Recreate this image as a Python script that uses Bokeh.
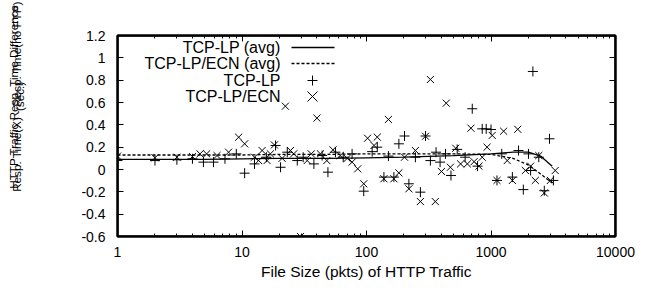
import math
from bokeh.plotting import figure
from bokeh.models import (Range1d, FixedTicker, CustomJSTickFormatter, LinearAxis, LogAxis,
                          Label, Arrow, BoxAnnotation)
from bokeh.embed import file_html
from bokeh.resources import INLINE

# ---------------- data ----------------
lp_x = [1, 2, 3, 4, 4.9, 5.9, 7.3, 9, 10.5, 12.6, 15.7, 18.6, 20.4, 23.1, 27.8, 31, 37.8, 44, 49,
        56.3, 65, 76.6, 95, 111, 122, 138, 150, 166, 182, 202, 219, 247, 271, 298, 326, 362, 390,
        431, 477, 535, 620, 707, 780, 850, 915, 1000, 1117, 1220, 1485, 1664, 1818, 2000, 2080,
        2170, 2420, 2680, 2950, 3170]
lp_y = [0.08, 0.08, 0.087, 0.096, 0.066, 0.066, 0.096, 0.14, -0.033, 0.05, 0.11, 0.215, 0.02,
        0.155, 0.08, 0.11, 0.05, 0.125, -0.024, 0.155, 0.11, 0.14, -0.194, 0.16, 0.2, -0.068,
        0.12, -0.068, 0.23, 0.30, -0.128, 0.11, -0.203, 0.30, 0.08, 0.155, 0.066, 0.14, -0.054,
        0.18, 0.11, 0.544, 0.03, 0.364, 0.364, 0.358, -0.098, 0.14, -0.068, 0.17, -0.18, 0.14,
        -0.009, 0.878, 0.11, -0.19, 0.275, -0.098]

ecn_x = [1, 2, 3, 4, 4.6, 5.2, 6.3, 7.8, 9.4, 10.5, 12.6, 13.6, 14.5, 15.9, 16.9, 18.2, 21, 22.3,
         24.5, 26, 29.5, 33.4, 36, 40, 42.7, 48, 53.8, 61.5, 70, 76.6, 85, 95, 102, 115, 122, 138,
         150, 166, 182, 202, 219, 247, 271, 298, 326, 357, 400, 437, 472, 521, 570, 646, 690, 731,
         800, 850, 930, 1023, 1117, 1263, 1350, 1485, 1640, 1890, 2080, 2270, 2420, 2680, 3000,
         3280]
ecn_y = [0.12, 0.105, 0.11, 0.116, 0.14, 0.14, 0.125, 0.155, 0.289, 0.23, 0.11, 0.08, 0.17, 0.08,
         0.14, 0.22, 0.10, 0.567, 0.17, 0.14, -0.6, 0.08, 0.14, 0.46, 0.14, 0.08, 0.176, 0.125,
         0.10, 0.066, 0.006, -0.128, 0.28, 0.215, 0.29, -0.083, 0.448, -0.083, -0.03, 0.11,
         -0.173, 0.17, -0.287, 0.298, 0.806, -0.287, -0.018, 0.594, 0.02, 0.19, 0.05, 0.05, 0.37,
         0.07, 0.03, 0.11, 0.2, 0.305, -0.098, 0.343, 0.08, -0.098, 0.36, -0.009, 0.03, -0.098,
         0.125, -0.21, -0.098, -0.009]

avg_x = [1, 2, 5, 10, 20, 50, 100, 200, 500, 1000, 1500, 2000, 2500, 3100]
lp_avg = [0.09, 0.09, 0.09, 0.095, 0.10, 0.10, 0.105, 0.11, 0.125, 0.14, 0.155, 0.155, 0.12, 0.03]
ecn_avg = [0.13, 0.13, 0.13, 0.13, 0.135, 0.135, 0.14, 0.14, 0.14, 0.135, 0.10, 0.04, -0.04, -0.12]

x_ticks = [1, 10, 100, 1000, 10000]
y_ticks = [-0.6, -0.4, -0.2, 0, 0.2, 0.4, 0.6, 0.8, 1.0, 1.2]

legend_labels = ["TCP-LP (avg)", "TCP-LP/ECN (avg)", "TCP-LP", "TCP-LP/ECN"]
x_title = "File Size (pkts) of HTTP Traffic"
y_title = ["HTTP Traffic Resp. Time Difference", "Resp. Time(X) - Resp. Time(no FTP)", "(sec.)"]

FONT = "Liberation Sans"
FW, FH = 498, 201  # frame size in px

p = figure(width=659, height=291, x_axis_type="log",
           x_range=Range1d(1, 10000), y_range=Range1d(-0.6, 1.2),
           output_backend="svg", toolbar_location=None,
           min_border_left=117, min_border_right=44, min_border_top=35, min_border_bottom=55)
p.background_fill_color = None
p.border_fill_color = None
p.outline_line_color = "black"
p.outline_line_width = 2
p.grid.visible = False

minor_x = [m * d for d in [1, 10, 100, 1000] for m in range(2, 10)]
xt = FixedTicker(ticks=x_ticks, minor_ticks=minor_x)
yt = FixedTicker(ticks=y_ticks)
xfmt = CustomJSTickFormatter(code="return Math.round(tick).toString();")
yfmt = CustomJSTickFormatter(code="return Number(tick.toFixed(1)).toString();")
blank = CustomJSTickFormatter(code="return '';")


def style(ax):
    ax.axis_line_color = "black"
    ax.axis_line_width = 2
    ax.major_tick_in = 6
    ax.major_tick_out = 0
    ax.minor_tick_in = 3
    ax.minor_tick_out = 0
    ax.major_tick_line_color = "black"
    ax.minor_tick_line_color = "black"
    ax.major_label_text_font = FONT
    ax.major_label_text_font_size = "14px"
    ax.major_label_text_color = "black"


xa = p.xaxis[0]
xa.ticker = xt
xa.formatter = xfmt
style(xa)
xa.major_label_standoff = 10
xa.axis_label = x_title
xa.axis_label_text_font = FONT
xa.axis_label_text_font_size = "15.5px"
xa.axis_label_text_font_style = "normal"
xa.axis_label_text_color = "black"
xa.axis_label_standoff = 3

ya = p.yaxis[0]
ya.ticker = yt
ya.formatter = yfmt
style(ya)
ya.minor_tick_in = 0
ya.major_label_standoff = 12

top = LogAxis(ticker=xt, formatter=blank)
style(top)
top.major_label_standoff = 0
p.add_layout(top, "above")
right = LinearAxis(ticker=yt, formatter=blank)
style(right)
right.minor_tick_in = 0
right.major_label_standoff = 0
p.add_layout(right, "right")

# frame border
p.add_layout(BoxAnnotation(fill_color=None, fill_alpha=0, line_color="black", line_width=2,
                           line_alpha=1, level="overlay"))

# avg curves
p.line(avg_x, lp_avg, line_color="black", line_width=1.3)
p.line(avg_x, ecn_avg, line_color="black", line_width=1.3, line_dash="3 2")
# scatter
p.scatter(lp_x, lp_y, marker="cross", size=10, line_color="black", line_width=1)
p.scatter(ecn_x, ecn_y, marker="x", size=10, line_color="black", line_width=1)

# y-axis title (three lines) placed in the left side panel
for i, t in enumerate(y_title):
    p.add_layout(Label(x=-52 + 16 * i, y=FH - 61, x_units="screen", y_units="screen", text=t,
                       angle=math.pi / 2, text_align="center", text_baseline="middle",
                       text_font=FONT, text_font_size="11.7px", text_color="black"), "left")

# gnuplot-style legend: text right-aligned, sample at right
rows = [189, 173, 156, 140]
for t, yy in zip(legend_labels, rows):
    p.add_layout(Label(x=163, y=yy, x_units="screen", y_units="screen", text=t,
                       text_align="right", text_baseline="middle",
                       text_font=FONT, text_font_size="16px", text_color="black"))


def seg(x0, y0, x1, y1, dash="solid", w=1.0):
    p.add_layout(Arrow(end=None, x_start=x0, y_start=y0, x_end=x1, y_end=y1,
                       start_units="screen", end_units="screen",
                       line_color="black", line_width=w, line_dash=dash))


seg(174, rows[0], 217, rows[0], w=1.3)
seg(174, rows[1], 217, rows[1], dash="3 2", w=1.3)
seg(190, rows[2], 200, rows[2])
seg(195, rows[2] - 5, 195, rows[2] + 5)
seg(190, rows[3] - 5, 200, rows[3] + 5)
seg(190, rows[3] + 5, 200, rows[3] - 5)

open("out.html", "w").write(file_html(p, INLINE))
